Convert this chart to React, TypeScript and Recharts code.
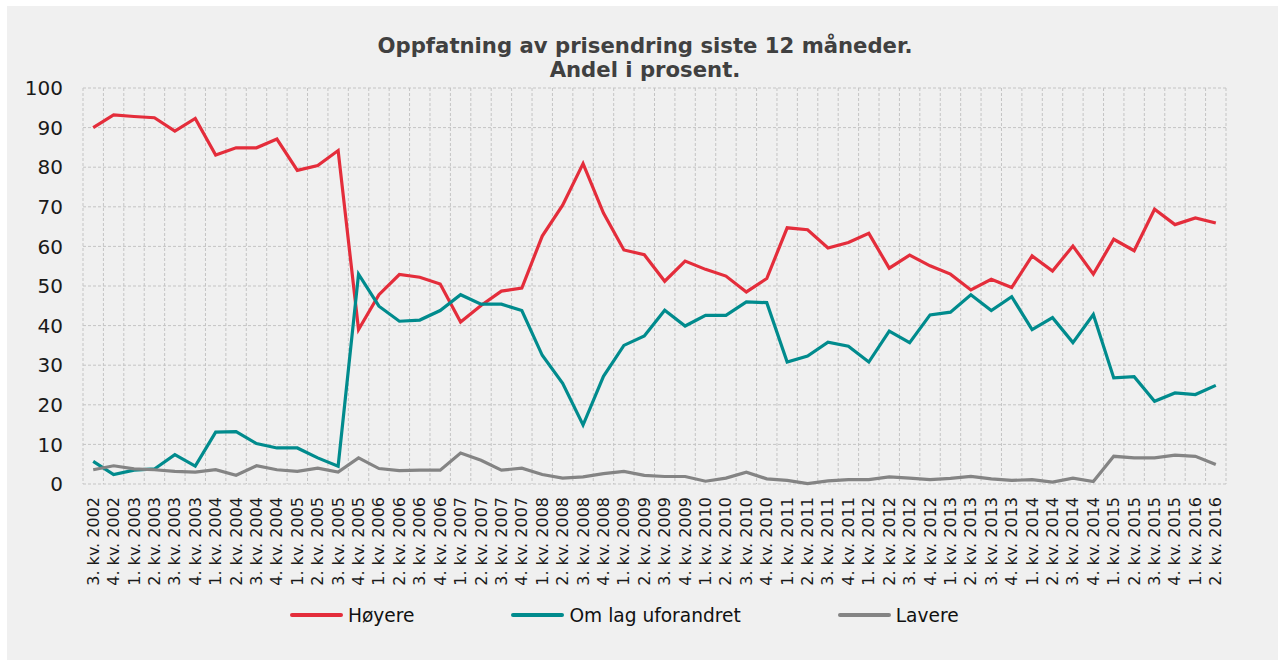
import React from "react";
import { LineChart, Line, XAxis, YAxis, CartesianGrid, Legend } from "recharts";

const quarters = [
  "3. kv. 2002", "4. kv. 2002",
  "1. kv. 2003", "2. kv. 2003", "3. kv. 2003", "4. kv. 2003",
  "1. kv. 2004", "2. kv. 2004", "3. kv. 2004", "4. kv. 2004",
  "1. kv. 2005", "2. kv. 2005", "3. kv. 2005", "4. kv. 2005",
  "1. kv. 2006", "2. kv. 2006", "3. kv. 2006", "4. kv. 2006",
  "1. kv. 2007", "2. kv. 2007", "3. kv. 2007", "4. kv. 2007",
  "1. kv. 2008", "2. kv. 2008", "3. kv. 2008", "4. kv. 2008",
  "1. kv. 2009", "2. kv. 2009", "3. kv. 2009", "4. kv. 2009",
  "1. kv. 2010", "2. kv. 2010", "3. kv. 2010", "4. kv. 2010",
  "1. kv. 2011", "2. kv. 2011", "3. kv. 2011", "4. kv. 2011",
  "1. kv. 2012", "2. kv. 2012", "3. kv. 2012", "4. kv. 2012",
  "1. kv. 2013", "2. kv. 2013", "3. kv. 2013", "4. kv. 2013",
  "1. kv. 2014", "2. kv. 2014", "3. kv. 2014", "4. kv. 2014",
  "1. kv. 2015", "2. kv. 2015", "3. kv. 2015", "4. kv. 2015",
  "1. kv. 2016", "2. kv. 2016",
];

const hoyere = [
  90.0, 93.2, 92.8, 92.5, 89.1, 92.3, 83.1, 84.9, 84.9, 87.1,
  79.2, 80.4, 84.2, 39.0, 47.8, 52.9, 52.2, 50.5, 40.9, 45.1,
  48.7, 49.5, 62.6, 70.4, 80.9, 68.4, 59.1, 57.9, 51.2, 56.3,
  54.2, 52.5, 48.5, 51.9, 64.7, 64.2, 59.6, 61.0, 63.3, 54.5,
  57.8, 55.1, 53.0, 49.0, 51.7, 49.6, 57.6, 53.8, 60.1, 53.0,
  61.8, 58.9, 69.4, 65.5, 67.2, 65.9,
];

const uforandret = [
  5.7, 2.4, 3.5, 3.8, 7.4, 4.5, 13.1, 13.2, 10.2, 9.1,
  9.1, 6.6, 4.5, 53.0, 44.9, 41.1, 41.4, 43.8, 47.8, 45.4,
  45.4, 43.8, 32.5, 25.4, 14.9, 27.2, 35.0, 37.4, 43.9, 39.9,
  42.6, 42.6, 46.0, 45.8, 30.8, 32.3, 35.8, 34.8, 30.8, 38.6,
  35.7, 42.7, 43.4, 47.8, 43.8, 47.3, 39.0, 42.0, 35.7, 42.8,
  26.8, 27.1, 20.9, 23.0, 22.6, 24.9,
];

const lavere = [
  3.6, 4.6, 3.8, 3.6, 3.2, 3.0, 3.6, 2.2, 4.6, 3.6,
  3.2, 4.0, 3.0, 6.6, 3.9, 3.4, 3.5, 3.5, 7.8, 6.0,
  3.5, 4.0, 2.4, 1.5, 1.8, 2.6, 3.2, 2.2, 1.9, 1.9,
  0.7, 1.5, 3.0, 1.3, 0.9, 0.1, 0.8, 1.1, 1.1, 1.8,
  1.5, 1.1, 1.4, 1.9, 1.3, 0.9, 1.1, 0.5, 1.5, 0.6,
  7.0, 6.6, 6.6, 7.3, 7.0, 4.9,
];

const yTicks = [0, 10, 20, 30, 40, 50, 60, 70, 80, 90, 100];

const series = [
  { key: "hoyere", name: "Høyere", color: "#e42d3b" },
  { key: "uforandret", name: "Om lag uforandret", color: "#008b8d" },
  { key: "lavere", name: "Lavere", color: "#848484" },
];

const data = quarters.map((q, i) => ({
  q,
  hoyere: hoyere[i],
  uforandret: uforandret[i],
  lavere: lavere[i],
}));

const FONT = "'DejaVu Sans', Verdana, sans-serif";

function QuarterTick({ x, y, payload }: any) {
  return (
    <text
      transform={`translate(${x},${y + 11}) rotate(-90)`}
      textAnchor="end"
      dominantBaseline="central"
      fontSize={16}
      fontFamily={FONT}
      fill="#1a1a1a"
    >
      {payload.value}
    </text>
  );
}

function LegendRow() {
  return (
    <div style={{ display: "flex", alignItems: "center", height: 24, fontFamily: FONT, fontSize: 18.6, color: "#111" }}>
      {series.map((s, i) => (
        <div key={s.key} style={{ display: "flex", alignItems: "center", marginRight: i < series.length - 1 ? 97 : 0 }}>
          <span style={{ display: "inline-block", width: 53, height: 4, borderRadius: 2, background: s.color, marginRight: 5 }} />
          <span style={{ whiteSpace: "nowrap" }}>{s.name}</span>
        </div>
      ))}
    </div>
  );
}

export default function App() {
  const n = quarters.length;
  return (
    <div style={{ position: "absolute", left: 0, top: 0, width: 1281, height: 660, background: "#fff" }}>
      <div style={{ position: "absolute", left: 7, top: 6, width: 1271, height: 654, background: "#f0f0f0" }}>
        <div
          style={{
            position: "absolute",
            left: 0,
            top: 28,
            width: 1276,
            textAlign: "center",
            fontFamily: FONT,
            fontWeight: 700,
            fontSize: 21.2,
            lineHeight: "24px",
            color: "#404040",
          }}
        >
          Oppfatning av prisendring siste 12 måneder.
          <br />
          Andel i prosent.
        </div>
        <LineChart
          width={1271}
          height={654}
          data={data}
          margin={{ top: 82, right: 52, left: 0, bottom: 42 }}
          style={{ position: "absolute", left: 0, top: 0 }}
        >
          <CartesianGrid
            stroke="#c4c4c4"
            strokeDasharray="3 2"
            verticalCoordinatesGenerator={({ offset }: any) =>
              Array.from({ length: n + 1 }, (_, i) => offset.left + (i * offset.width) / n)
            }
          />
          <XAxis
            dataKey="q"
            interval={0}
            height={110}
            padding={{ left: 1143 / n / 2, right: 1143 / n / 2 }}
            axisLine={false}
            tickLine={false}
            tickSize={0}
            tick={<QuarterTick />}
          />
          <YAxis
            width={76}
            domain={[0, 100]}
            ticks={yTicks}
            interval={0}
            axisLine={false}
            tickLine={false}
            tickSize={0}
            tickMargin={20}
            tick={{ fontSize: 20, fill: "#1a1a1a", fontFamily: FONT }}
          />
          <Legend
            verticalAlign="bottom"
            height={24}
            content={() => <LegendRow />}
            wrapperStyle={{ left: 283, top: 597, width: "auto", height: 24 }}
          />
          {series.map((s) => (
            <Line
              key={s.key}
              type="linear"
              dataKey={s.key}
              name={s.name}
              stroke={s.color}
              strokeWidth={3.2}
              dot={false}
              activeDot={false}
              isAnimationActive={false}
            />
          ))}
        </LineChart>
      </div>
    </div>
  );
}
